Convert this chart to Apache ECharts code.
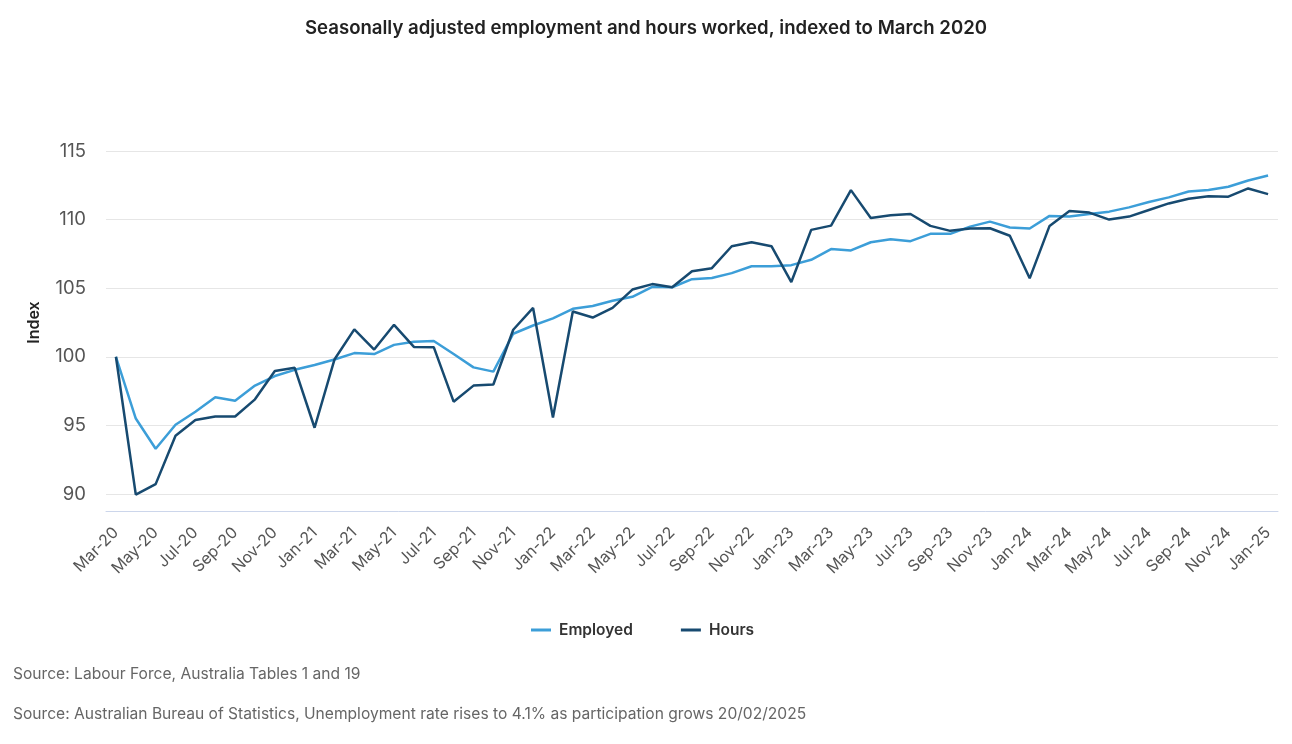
<!DOCTYPE html>
<html>
<head>
<meta charset="utf-8">
<title>Employment and hours worked</title>
<script src="https://cdn.jsdelivr.net/npm/echarts@6/dist/echarts.min.js"></script>
<style>
  html, body { margin: 0; padding: 0; background: #fff; }
  #main { width: 1292px; height: 744px; }
</style>
</head>
<body>
<div id="main"></div>
<script>
// months, Mar-20 to Jan-25
const months = [
  'Mar-20', 'Apr-20', 'May-20', 'Jun-20', 'Jul-20', 'Aug-20', 'Sep-20', 'Oct-20', 'Nov-20', 'Dec-20',
  'Jan-21', 'Feb-21', 'Mar-21', 'Apr-21', 'May-21', 'Jun-21', 'Jul-21', 'Aug-21', 'Sep-21', 'Oct-21', 'Nov-21', 'Dec-21',
  'Jan-22', 'Feb-22', 'Mar-22', 'Apr-22', 'May-22', 'Jun-22', 'Jul-22', 'Aug-22', 'Sep-22', 'Oct-22', 'Nov-22', 'Dec-22',
  'Jan-23', 'Feb-23', 'Mar-23', 'Apr-23', 'May-23', 'Jun-23', 'Jul-23', 'Aug-23', 'Sep-23', 'Oct-23', 'Nov-23', 'Dec-23',
  'Jan-24', 'Feb-24', 'Mar-24', 'Apr-24', 'May-24', 'Jun-24', 'Jul-24', 'Aug-24', 'Sep-24', 'Oct-24', 'Nov-24', 'Dec-24',
  'Jan-25',
];

// index, March 2020 = 100
const employed = [
  100.0, 95.5, 93.3, 95.05, 96.0, 97.05, 96.8, 97.9, 98.6, 99.05,
  99.4, 99.8, 100.27, 100.2, 100.87, 101.1, 101.15, 100.2, 99.23, 98.92, 101.68, 102.28,
  102.8, 103.5, 103.7, 104.08, 104.37, 105.1, 105.07, 105.66, 105.75, 106.1, 106.6, 106.6,
  106.68, 107.07, 107.85, 107.75, 108.35, 108.57, 108.43, 108.96, 108.96, 109.49, 109.85, 109.42,
  109.35, 110.27, 110.22, 110.41, 110.58, 110.89, 111.28, 111.62, 112.05, 112.15, 112.39, 112.85,
  113.21,
];

const hours = [
  100.0, 89.95, 90.72, 94.25, 95.4, 95.65, 95.65, 96.9, 98.96, 99.2,
  94.83, 99.8, 102.0, 100.53, 102.33, 100.72, 100.7, 96.73, 97.9, 97.98, 101.97, 103.56,
  95.57, 103.3, 102.86, 103.57, 104.9, 105.3, 105.07, 106.24, 106.46, 108.06, 108.35, 108.06,
  105.45, 109.25, 109.56, 112.15, 110.12, 110.31, 110.41, 109.54, 109.18, 109.35, 109.37, 108.82,
  105.72, 109.54, 110.63, 110.51, 110.0, 110.22, 110.7, 111.18, 111.52, 111.71, 111.67, 112.27,
  111.86,
];

const yTicks = [90, 95, 100, 105, 110, 115];

const fontFamily = 'Inter, "Noto Sans", sans-serif';

const chart = echarts.init(document.getElementById('main'));

const option = {
  animation: false,
  textStyle: { fontFamily },
  title: {
    text: 'Seasonally adjusted employment and hours worked, indexed to March 2020',
    left: 'center',
    top: 14,
    textStyle: { fontSize: 18.6, fontWeight: 600, color: '#222', fontFamily },
  },
  legend: {
    top: 617,
    left: 526,
    itemWidth: 20,
    itemHeight: 3,
    itemGap: 48,
    icon: 'rect',
    textStyle: {
      fontSize: 15.5,
      fontWeight: 600,
      color: '#333',
      fontFamily,
      padding: [0, 0, 0, 3],
    },
    data: ['Employed', 'Hours'],
  },
  grid: {
    left: 106,
    right: 14,
    top: 151,
    bottom: 250,
  },
  xAxis: {
    type: 'category',
    data: months,
    boundaryGap: true,
    offset: 17,
    axisLine: { lineStyle: { color: '#ccd6eb', width: 1 } },
    axisTick: { show: false },
    axisLabel: {
      interval: 1,
      rotate: 45,
      margin: 19,
      fontSize: 16,
      color: '#555',
      fontFamily,
    },
  },
  yAxis: {
    type: 'value',
    min: yTicks[0],
    max: yTicks[yTicks.length - 1],
    interval: 5,
    name: 'Index',
    nameLocation: 'middle',
    nameGap: 64,
    nameTextStyle: { fontSize: 16, fontWeight: 600, color: '#222', fontFamily },
    axisLine: { show: false },
    axisTick: { show: false },
    axisLabel: { fontSize: 18.5, color: '#555', margin: 20, fontFamily },
    splitLine: { lineStyle: { color: '#e6e6e6', width: 1 } },
  },
  series: [
    {
      name: 'Employed',
      type: 'line',
      data: employed,
      showSymbol: false,
      clip: false,
      lineStyle: { width: 2.5, color: '#3c9ed8' },
      itemStyle: { color: '#3c9ed8' },
    },
    {
      name: 'Hours',
      type: 'line',
      data: hours,
      showSymbol: false,
      clip: false,
      lineStyle: { width: 2.5, color: '#174a70' },
      itemStyle: { color: '#174a70' },
    },
  ],
  graphic: [
    {
      type: 'text',
      left: 13,
      top: 666,
      style: { text: 'Source: Labour Force, Australia Tables 1 and 19', fontSize: 15.6, fill: '#666', fontFamily },
    },
    {
      type: 'text',
      left: 13,
      top: 706,
      style: {
        text: 'Source: Australian Bureau of Statistics, Unemployment rate rises to 4.1% as participation grows 20/02/2025',
        fontSize: 15.6,
        fill: '#666',
        fontFamily,
      },
    },
  ],
};

chart.setOption(option);
</script>
</body>
</html>
